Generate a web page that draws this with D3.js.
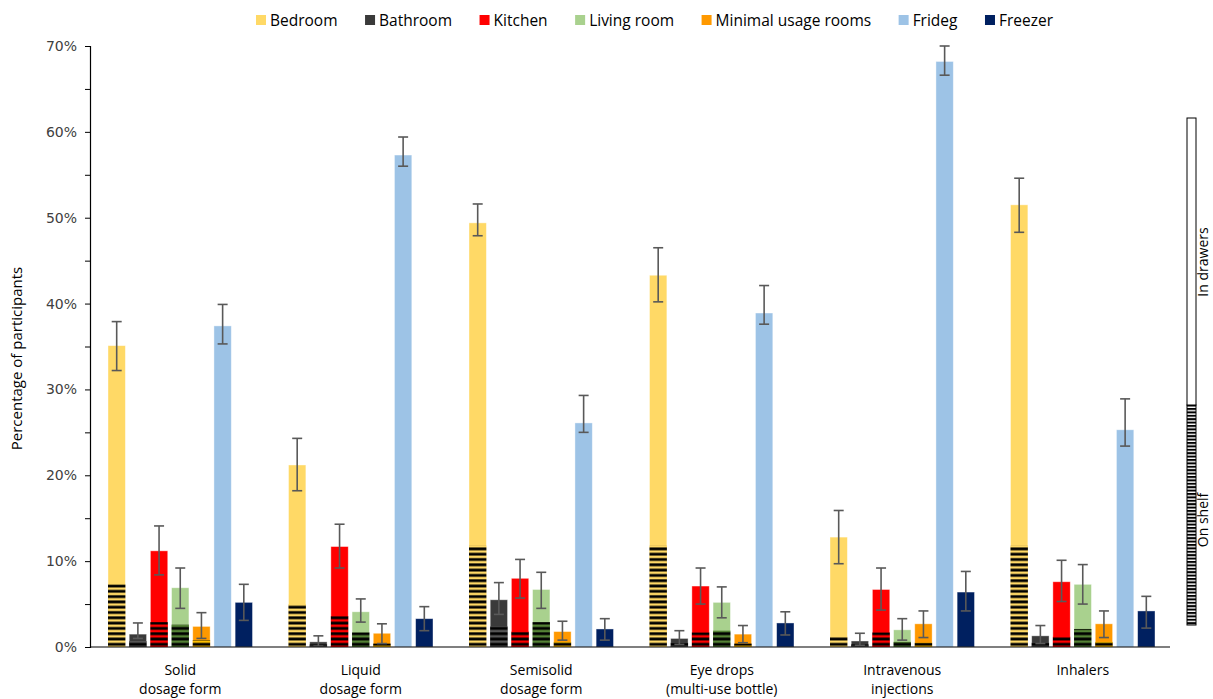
<!DOCTYPE html>
<html>
<head>
<meta charset="utf-8">
<script src="https://cdn.jsdelivr.net/npm/d3@7"></script>
<style>
  body { margin: 0; background: #fff; }
  svg text { font-family: "Liberation Sans Narrow", "Open Sans", sans-serif; }
</style>
</head>
<body>
<svg id="chart" width="1213" height="699"></svg>
<script>
const categories = [
  ["Solid", "dosage form"],
  ["Liquid", "dosage form"],
  ["Semisolid", "dosage form"],
  ["Eye drops", "(multi-use bottle)"],
  ["Intravenous", "injections"],
  ["Inhalers"]
];
const seriesNames = ["Bedroom", "Bathroom", "Kitchen", "Living room", "Minimal usage rooms", "Frideg", "Freezer"];
const yTicks = [0, 10, 20, 30, 40, 50, 60, 70];

// total % per series, one value per category
const bedroom  = [35.1, 21.2, 49.4, 43.3, 12.8, 51.5];
const bathroom = [1.5, 0.6, 5.5, 1.0, 0.7, 1.3];
const kitchen  = [11.2, 11.7, 8.0, 7.1, 6.7, 7.6];
const living   = [6.9, 4.1, 6.7, 5.2, 2.0, 7.3];
const minimal  = [2.4, 1.6, 1.8, 1.5, 2.7, 2.7];
const fridge   = [37.4, 57.3, 26.1, 38.9, 68.2, 25.3];
const freezer  = [5.2, 3.3, 2.1, 2.8, 6.4, 4.2];

// part kept "on shelf" (hatched)
const bedroomShelf  = [7.3, 5.0, 11.8, 11.8, 1.2, 11.8];
const bathroomShelf = [0.7, 0.3, 2.4, 0.5, 0.3, 0.5];
const kitchenShelf  = [2.9, 3.6, 1.8, 1.7, 1.7, 1.2];
const livingShelf   = [2.6, 1.7, 2.9, 1.9, 0.6, 2.1];
const minimalShelf  = [0.8, 0.4, 0.6, 0.4, 0.5, 0.6];
const fridgeShelf   = [0, 0, 0, 0, 0, 0];
const freezerShelf  = [0, 0, 0, 0, 0, 0];

// error bar ends
const bedroomLo  = [32.2, 18.2, 47.9, 40.2, 9.7, 48.3];
const bedroomHi  = [37.9, 24.3, 51.6, 46.5, 15.9, 54.6];
const bathroomLo = [1.0, 0.1, 3.8, 0.3, 0.2, 0.4];
const bathroomHi = [2.8, 1.3, 7.5, 1.9, 1.6, 2.5];
const kitchenLo  = [8.4, 9.2, 5.7, 5.0, 4.3, 5.3];
const kitchenHi  = [14.1, 14.3, 10.2, 9.2, 9.2, 10.1];
const livingLo   = [4.5, 2.9, 4.5, 3.4, 0.8, 5.0];
const livingHi   = [9.2, 5.6, 8.7, 7.0, 3.3, 9.6];
const minimalLo  = [1.0, 0.4, 0.8, 0.5, 1.1, 1.1];
const minimalHi  = [4.0, 2.7, 3.0, 2.5, 4.2, 4.2];
const fridgeLo   = [35.3, 56.0, 25.0, 37.6, 66.6, 23.4];
const fridgeHi   = [39.9, 59.4, 29.3, 42.1, 70.0, 28.9];
const freezerLo  = [3.1, 1.9, 0.8, 1.4, 4.2, 2.2];
const freezerHi  = [7.3, 4.7, 3.3, 4.1, 8.8, 5.9];

const colors = ["#FFD966", "#3A3A3A", "#FF0000", "#A9D18E", "#FF9900", "#9DC3E6", "#002060"];
const hatchBg = ["#FFD966", "#555555", "#FF0000", "#548235", "#FFC000", "#9DC3E6", "#002060"];

const totals = [bedroom, bathroom, kitchen, living, minimal, fridge, freezer];
const shelves = [bedroomShelf, bathroomShelf, kitchenShelf, livingShelf, minimalShelf, fridgeShelf, freezerShelf];
const lows = [bedroomLo, bathroomLo, kitchenLo, livingLo, minimalLo, fridgeLo, freezerLo];
const highs = [bedroomHi, bathroomHi, kitchenHi, livingHi, minimalHi, fridgeHi, freezerHi];

const svg = d3.select("#chart"),
      margin = {top: 46, left: 90, right: 40, bottom: 52},
      width = +svg.attr("width"),
      height = +svg.attr("height");

const x0 = d3.scaleBand().domain(d3.range(categories.length)).range([margin.left, 1173]).paddingInner(0).paddingOuter(0);
const x1 = d3.scaleBand().domain(d3.range(seriesNames.length)).range([18, x0.bandwidth() - 18]).paddingInner(0.18);
const y = d3.scaleLinear().domain([0, 70]).range([height - margin.bottom, margin.top]);

// hatch patterns, anchored at the baseline
const defs = svg.append("defs");
hatchBg.forEach((c, i) => {
  const p = defs.append("pattern")
      .attr("id", "hatch" + i)
      .attr("patternUnits", "userSpaceOnUse")
      .attr("width", 10).attr("height", 5.3)
      .attr("patternTransform", `translate(0,${y(0)})`);
  p.append("rect").attr("width", 10).attr("height", 5.3).attr("fill", c);
  p.append("rect").attr("y", 1.2).attr("width", 10).attr("height", 2.8).attr("fill", "#000");
});
const legHatch = defs.append("pattern")
    .attr("id", "legHatch")
    .attr("patternUnits", "userSpaceOnUse")
    .attr("width", 10).attr("height", 3.4);
legHatch.append("rect").attr("width", 10).attr("height", 3.4).attr("fill", "#fff");
legHatch.append("rect").attr("width", 10).attr("height", 2).attr("fill", "#000");

// y axis
const yAxis = d3.axisLeft(y).tickValues(d3.range(0, 71, 5)).tickSize(5)
    .tickFormat(d => d % 10 === 0 ? d + "%" : "");
const gy = svg.append("g").attr("transform", `translate(${margin.left},0)`).call(yAxis);
gy.select(".domain").attr("stroke", "#000").attr("stroke-width", 1.2);
gy.selectAll(".tick line").attr("stroke", "#000");
gy.selectAll(".tick text")
    .attr("x", -13)
    .style("font-family", "'DejaVu Sans', Verdana, sans-serif")
    .style("font-size", "14px")
    .attr("fill", "#404040");

svg.append("text")
    .attr("transform", `translate(22,${(y(0) + y(70)) / 2 + 12}) rotate(-90)`)
    .attr("text-anchor", "middle")
    .style("font-size", "15px")
    .attr("fill", "#000")
    .text("Percentage of participants");

// bars
const groups = svg.append("g").selectAll("g")
  .data(categories)
  .join("g")
    .attr("transform", (d, ci) => `translate(${x0(ci)},0)`);

groups.each(function(cat, ci) {
  const g = d3.select(this);
  seriesNames.forEach((s, si) => {
    const bx = x1(si), bw = x1.bandwidth();
    const v = totals[si][ci], sh = shelves[si][ci];
    g.append("rect")
        .attr("x", bx).attr("width", bw)
        .attr("y", y(v)).attr("height", y(0) - y(v))
        .attr("fill", colors[si])
        .attr("stroke", "rgba(255,255,255,0.5)").attr("stroke-width", 0.8);
    if (sh > 0) {
      g.append("rect")
          .attr("x", bx).attr("width", bw)
          .attr("y", y(sh)).attr("height", y(0) - y(sh))
          .attr("fill", `url(#hatch${si})`);
    }
    // error bar
    const cx = bx + bw / 2, lo = lows[si][ci], hi = highs[si][ci];
    const eb = g.append("g").attr("stroke", "#595959").attr("stroke-width", 1.6);
    eb.append("line").attr("x1", cx).attr("x2", cx).attr("y1", y(lo)).attr("y2", y(hi));
    eb.append("line").attr("x1", cx - 5).attr("x2", cx + 5).attr("y1", y(lo)).attr("y2", y(lo));
    eb.append("line").attr("x1", cx - 5).attr("x2", cx + 5).attr("y1", y(hi)).attr("y2", y(hi));
  });
});

// x axis baseline and labels
svg.append("line")
    .attr("x1", margin.left).attr("x2", x0.range()[1] - 3)
    .attr("y1", y(0)).attr("y2", y(0))
    .attr("stroke", "#000").attr("stroke-width", 1.2);

categories.forEach((lines, ci) => {
  const t = svg.append("text")
      .attr("x", x0(ci) + x0.bandwidth() / 2)
      .attr("y", 675)
      .attr("text-anchor", "middle")
      .style("font-size", "14px")
      .attr("fill", "#000");
  lines.forEach((l, li) => {
    t.append("tspan").attr("x", x0(ci) + x0.bandwidth() / 2).attr("dy", li === 0 ? 0 : 19).text(l);
  });
});

// top legend
const legend = svg.append("g").attr("transform", "translate(256,20)");
let lx = 0;
seriesNames.forEach((s, i) => {
  const item = legend.append("g").attr("transform", `translate(${lx},0)`);
  item.append("rect").attr("x", 0).attr("y", -5).attr("width", 10).attr("height", 10).attr("fill", colors[i]);
  const t = item.append("text").attr("x", 14).attr("y", 6).style("font-size", "15.5px").attr("fill", "#000").text(s);
  lx += 14 + t.node().getComputedTextLength() + 27.5;
});

// side legend: in drawers / on shelf
const side = svg.append("g");
side.append("rect").attr("x", 1187).attr("y", 405).attr("width", 9).attr("height", 220)
    .attr("fill", "url(#legHatch)").attr("stroke", "#000").attr("stroke-width", 1);
side.append("rect").attr("x", 1187).attr("y", 118).attr("width", 9).attr("height", 287)
    .attr("fill", "#fff").attr("stroke", "#000").attr("stroke-width", 1);
side.append("text")
    .attr("transform", "translate(1208,262) rotate(-90)")
    .attr("text-anchor", "middle").style("font-size", "14px").attr("fill", "#000")
    .text("In drawers");
side.append("text")
    .attr("transform", "translate(1208,520) rotate(-90)")
    .attr("text-anchor", "middle").style("font-size", "14px").attr("fill", "#000")
    .text("On shelf");
</script>
</body>
</html>
